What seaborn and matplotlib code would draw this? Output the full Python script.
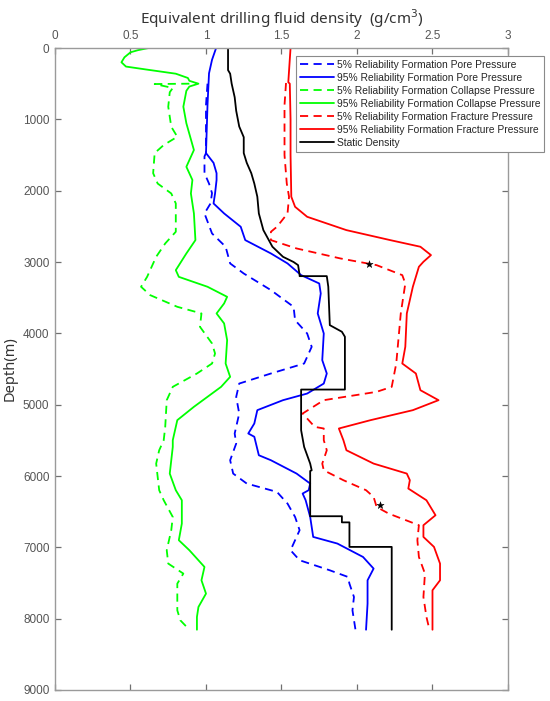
import matplotlib
matplotlib.use("Agg")
import matplotlib.pyplot as plt
import seaborn as sns

# depth (m) / density (g/cm3)
pore95_depth = [0, 165, 355, 800, 1473, 1610, 1755, 1851, 2039, 2179, 2319, 2506, 2693, 2880,
                3020, 3184, 3301, 3441, 3721, 4002, 4376, 4563, 4704, 4844, 4937, 5077, 5264,
                5404, 5450, 5709, 5779, 5966, 6106, 6199, 6246, 6340, 6574, 6854, 6947, 7135,
                7298, 7462, 7790, 8155]
pore95_val = [1.067, 1.04, 1.02, 1.01, 1.00, 1.05, 1.07, 1.07, 1.06, 1.05, 1.12, 1.23, 1.26, 1.43,
              1.54, 1.63, 1.75, 1.76, 1.74, 1.78, 1.77, 1.80, 1.78, 1.67, 1.51, 1.34, 1.32,
              1.28, 1.32, 1.35, 1.43, 1.60, 1.69, 1.68, 1.64, 1.66, 1.69, 1.71, 1.87, 2.04,
              2.11, 2.07, 2.07, 2.06]

pore5_depth = [500, 800, 1473, 1520, 1755, 1900, 2034, 2179, 2319, 2600, 2786, 3020, 3161, 3394,
               3488, 3628, 3815, 4002, 4189, 4423, 4563, 4704, 4891, 5124, 5404, 5545, 5779,
               5966, 6106, 6223, 6387, 6574, 6760, 6900, 7041, 7181, 7322, 7415, 7509, 7696,
               7883, 8155]
pore5_val = [1.01, 1.00, 1.00, 0.99, 0.99, 1.02, 1.04, 1.03, 0.99, 1.04, 1.13, 1.16, 1.25, 1.43,
             1.49, 1.58, 1.59, 1.67, 1.70, 1.65, 1.43, 1.22, 1.20, 1.22, 1.19, 1.20, 1.16,
             1.18, 1.27, 1.47, 1.54, 1.59, 1.62, 1.59, 1.56, 1.62, 1.82, 1.94, 1.95, 1.98,
             1.97, 1.99]

coll95_depth = [0, 30, 60, 130, 200, 260, 300, 360, 420, 460, 500, 540, 600, 823, 1055, 1430,
                1665, 1850, 2039, 2319, 2693, 2880, 3114, 3208, 3347, 3488, 3581, 3721, 3861,
                4095, 4423, 4610, 4750, 5030, 5217, 5498, 5592, 5966, 6199, 6340, 6667, 6900,
                7041, 7275, 7462, 7649, 7836, 7976, 8155]
coll95_val = [0.62, 0.55, 0.50, 0.46, 0.44, 0.47, 0.60, 0.80, 0.88, 0.89, 0.95, 0.89, 0.87, 0.85,
              0.87, 0.92, 0.87, 0.91, 0.90, 0.92, 0.93, 0.87, 0.80, 0.82, 1.01, 1.14, 1.12,
              1.07, 1.12, 1.14, 1.13, 1.16, 1.10, 0.92, 0.81, 0.78, 0.78, 0.76, 0.80, 0.84,
              0.84, 0.82, 0.89, 0.99, 0.97, 1.00, 0.95, 0.94, 0.94]

coll5_depth = [500, 505, 560, 620, 823, 1104, 1244, 1360, 1473, 1755, 1900, 2039, 2179, 2576,
               2740, 2927, 3208, 3347, 3464, 3628, 3721, 3908, 4142, 4282, 4423, 4563, 4750,
               4937, 5311, 5498, 5639, 5826, 6199, 6340, 6574, 6760, 7041, 7228, 7368, 7509,
               7883, 8023, 8155]
coll5_val = [0.89, 0.66, 0.78, 0.76, 0.75, 0.77, 0.81, 0.72, 0.66, 0.65, 0.68, 0.77, 0.80, 0.80,
             0.73, 0.67, 0.61, 0.57, 0.63, 0.81, 0.97, 0.96, 1.04, 1.06, 1.04, 0.94, 0.78,
             0.74, 0.73, 0.72, 0.69, 0.67, 0.69, 0.72, 0.78, 0.77, 0.74, 0.75, 0.85, 0.81,
             0.81, 0.83, 0.89]

frac95_depth = [0, 480, 500, 1000, 1500, 2085, 2226, 2366, 2553, 2693, 2786, 2903, 2997, 3067,
                3347, 3721, 4189, 4423, 4563, 4797, 4937, 5077, 5217, 5334, 5498, 5639, 5826,
                5966, 6059, 6176, 6340, 6550, 6690, 6854, 6994, 7228, 7462, 7602, 7883, 8155]
frac95_val = [1.56, 1.545, 1.555, 1.56, 1.56, 1.565, 1.59, 1.67, 1.93, 2.22, 2.42, 2.49, 2.44, 2.41,
              2.37, 2.33, 2.32, 2.30, 2.39, 2.42, 2.54, 2.37, 2.09, 1.88, 1.91, 1.93, 2.11,
              2.33, 2.35, 2.34, 2.46, 2.52, 2.44, 2.44, 2.51, 2.55, 2.55, 2.50, 2.50, 2.50]

frac5_depth = [490, 800, 1500, 1900, 2085, 2319, 2506, 2576, 2693, 2810, 2950, 3044, 3184, 3301,
               3721, 4423, 4750, 4820, 4937, 5124, 5311, 5334, 5498, 5639, 5826, 5920, 6059,
               6199, 6293, 6434, 6527, 6690, 6900, 7135, 7368, 7696, 7976, 8155]
frac5_val = [1.53, 1.52, 1.52, 1.535, 1.55, 1.54, 1.47, 1.43, 1.43, 1.60, 1.89, 2.13, 2.30, 2.32,
             2.29, 2.26, 2.23, 2.13, 1.78, 1.64, 1.72, 1.78, 1.78, 1.80, 1.77, 1.78, 1.91,
             2.06, 2.11, 2.13, 2.21, 2.41, 2.40, 2.41, 2.45, 2.44, 2.46, 2.48]

static_depth = [0, 310, 360, 500, 690, 880, 1100, 1250, 1473, 1610, 1755, 1900, 2085, 2319, 2553,
                2786, 2927, 3000, 3044, 3184, 3198, 3198, 3347, 3885, 3978, 4048, 4788, 4788,
                5358, 5592, 5826, 5920, 5930, 6564, 6564, 6650, 6650, 6994, 6994, 8155]
static_val = [1.146, 1.146, 1.16, 1.17, 1.19, 1.20, 1.22, 1.25, 1.25, 1.27, 1.30, 1.32, 1.34, 1.35,
              1.38, 1.44, 1.51, 1.58, 1.61, 1.62, 1.62, 1.80, 1.81, 1.82, 1.90, 1.92, 1.92, 1.63,
              1.63, 1.65, 1.69, 1.70, 1.69, 1.69, 1.90, 1.90, 1.95, 1.95, 2.23, 2.23]

star_val = [2.08, 2.15]
star_depth = [3034, 6410]

series = [
    ("5% Reliability Formation Pore Pressure", pore5_val, pore5_depth, "#0000ff", "--"),
    ("95% Reliability Formation Pore Pressure", pore95_val, pore95_depth, "#0000ff", "-"),
    ("5% Reliability Formation Collapse Pressure", coll5_val, coll5_depth, "#00ff00", "--"),
    ("95% Reliability Formation Collapse Pressure", coll95_val, coll95_depth, "#00ff00", "-"),
    ("5% Reliability Formation Fracture Pressure", frac5_val, frac5_depth, "#ff0000", "--"),
    ("95% Reliability Formation Fracture Pressure", frac95_val, frac95_depth, "#ff0000", "-"),
    ("Static Density", static_val, static_depth, "#000000", "-"),
]

sns.set_style("ticks")
plt.rcParams["font.family"] = ["Liberation Sans", "DejaVu Sans"]

fig = plt.figure(figsize=(5.5, 7.01), dpi=100)
ax = fig.add_axes([0.1, 0.0157, 0.8236, 0.9158])

for name, vals, depths, color, ls in series:
    sns.lineplot(x=vals, y=depths, ax=ax, sort=False, estimator=None, color=color,
                 linestyle=ls, linewidth=1.3, label=name)
    line = ax.get_lines()[-1]
    if ls == "--":
        line.set_dashes([4.5, 3])

sns.scatterplot(x=star_val, y=star_depth, ax=ax, marker="*", s=30, color="black",
                edgecolor="black", linewidth=0.3, zorder=5)

ax.set_xlim(0, 3)
ax.set_ylim(9000, 0)
ax.set_xticks([0, 0.5, 1, 1.5, 2, 2.5, 3])
ax.set_xticklabels(["0", "0.5", "1", "1.5", "2", "2.5", "3"])
ax.set_yticks(range(0, 9001, 1000))

ax.xaxis.set_label_position("top")
ax.tick_params(which="both", direction="in", top=True, bottom=True, left=True, right=True,
               labeltop=True, labelbottom=False, length=4.5, width=0.9, color="#707070",
               labelcolor="#555555", labelsize=8.5, pad=4)
for sp in ax.spines.values():
    sp.set_visible(True)
    sp.set_color("#9a9a9a")
    sp.set_linewidth(1.0)

ax.set_xlabel("Equivalent drilling fluid density  (g/cm$^3$)", fontsize=11,
              family=["Noto Sans", "DejaVu Sans"], color="#333333", labelpad=5)
ax.set_ylabel("Depth(m)", fontsize=10.5, family=["Noto Sans", "DejaVu Sans"],
              color="#333333", labelpad=4)

handles, labels = ax.get_legend_handles_labels()
ax.legend(handles[:7], labels[:7], loc="upper left", bbox_to_anchor=(296 / 550, 1 - 56 / 701),
          bbox_transform=fig.transFigure, fontsize=7.4, frameon=True, fancybox=False,
          edgecolor="#8a8a8a", framealpha=1, borderpad=0.35, borderaxespad=0,
          handlelength=3.3, handletextpad=0.3, labelspacing=0.3)
ax.get_legend().get_frame().set_linewidth(0.8)

fig.savefig("out.png", dpi=100)
